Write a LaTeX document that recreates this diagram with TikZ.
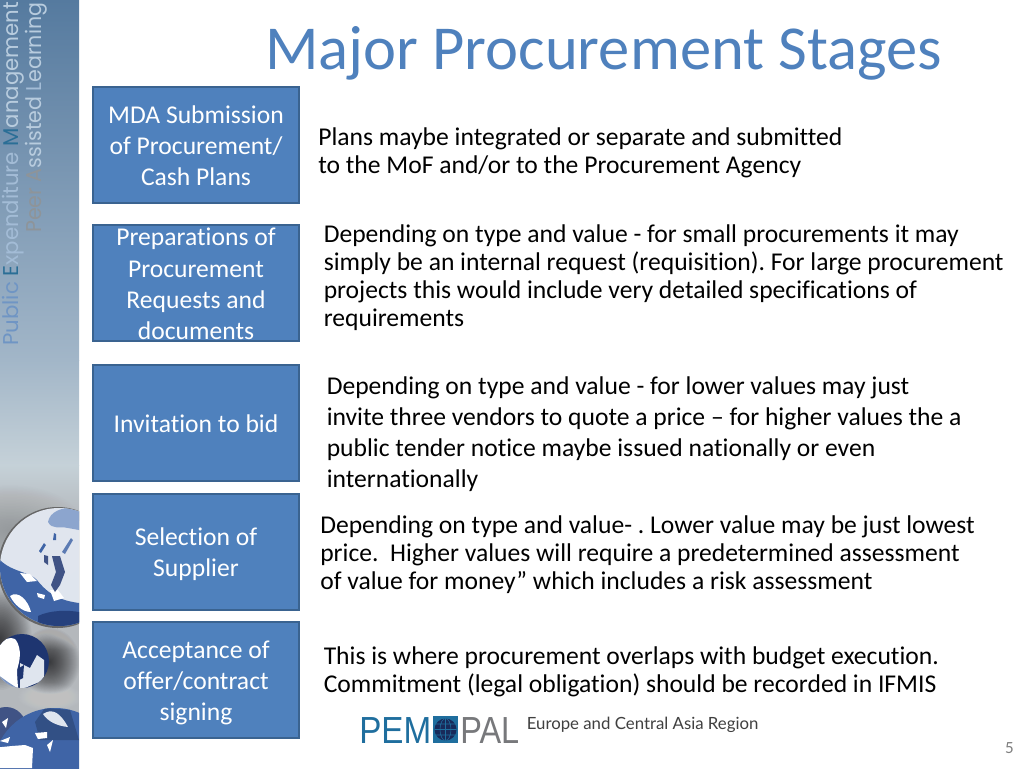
\documentclass[tikz,border=0pt]{standalone}
\usepackage{fontspec}
\setmainfont{Carlito}[RawFeature={-liga}]
\newfontfamily\sidefont{Poppins}
\newfontfamily\logofont{Liberation Sans}
\newfontfamily\regionfont{Lato}
\frenchspacing
\definecolor{boxfill}{HTML}{4F81BD}
\definecolor{boxline}{HTML}{3A6390}
\definecolor{titleblue}{HTML}{4F81BD}
\definecolor{sidebluedark}{HTML}{557A9F}
\definecolor{sidemid}{HTML}{A2B6C8}
\definecolor{sidelight}{HTML}{C5D1D8}
\definecolor{smokegrey}{HTML}{B4B8BC}
\definecolor{sidetexta}{HTML}{6F95C4}
\definecolor{sidetextb}{HTML}{A3BCD6}
\definecolor{sidetextc}{HTML}{B8CCDE}
\definecolor{sideaccent}{HTML}{2A6E96}
\definecolor{sidegrey}{HTML}{8E9499}
\definecolor{globeblue}{HTML}{3F64A6}
\definecolor{globedark}{HTML}{1E3570}
\definecolor{globelight}{HTML}{DFE5EE}
\definecolor{globepale}{HTML}{8CA5CE}
\definecolor{logoblue}{HTML}{1F6E9E}
\definecolor{logogrey}{HTML}{77787B}
\newcommand\softblob[6]{\foreach \k in {30,29,...,1}{\fill[#5,opacity=#6] (#1,#2) ellipse[x radius={#3*\k/30},y radius={#4*\k/30}];}}
\tikzset{
  x=0.75pt,y=-0.75pt,
  stagebox/.style={draw=boxline,line width=1.5pt,fill=boxfill,minimum width=154.5pt,minimum height=87pt,
    inner sep=0pt,text=white,align=center,font=\fontsize{19.2}{23.3}\selectfont},
  notetext/.style={anchor=north west,inner sep=0pt,align=left,text=black,font=\fontsize{19.2}{21}\selectfont},
  notewide/.style={notetext,font=\fontsize{19.2}{23.25}\selectfont},
  sidelabel/.style={rotate=90,anchor=base west,inner sep=0pt,font=\sidefont\fontsize{16}{20}\selectfont},
}
\begin{document}
\begin{tikzpicture}
\useasboundingbox (0,0) rectangle (1024,768);
\fill[white] (0,0) rectangle (1024,768);
% sidebar
\begin{scope}
\clip (0,0) rectangle (79,768);
\shade[top color=sidebluedark,bottom color=sidemid] (0,0) rectangle (79,360);
\shade[top color=sidemid,bottom color=sidelight] (0,360) rectangle (79,465);
\shade[top color=sidelight,bottom color=smokegrey] (0,465) rectangle (79,520);
\fill[smokegrey] (0,520) rectangle (79,768);
% soft grey smoke
\softblob{10}{530}{75}{45}{black!60}{.012}
\softblob{0}{640}{32}{50}{black}{.03}
\softblob{50}{662}{30}{34}{black}{.03}
\softblob{62}{636}{40}{14}{white}{.012}
\softblob{50}{697}{32}{14}{white}{.015}
% large globe
\fill[black!60] (57.5,567.5) ellipse[x radius=59.5,y radius=60.5];
\fill[globelight] (59,567) circle[radius=59];
\begin{scope}
\clip (59,567) circle[radius=59];
\softblob{45}{545}{42}{38}{white}{.03}
\fill[globeblue] (0,560) .. controls (12,572) and (30,572) .. (37,580) .. controls (45,590) and (55,600) .. (79,603) -- (79,640) -- (0,640) -- cycle;
\fill[globedark!75!globeblue] (38,616) .. controls (50,610) and (68,610) .. (79,612) -- (79,630) -- (38,630) -- cycle;
\fill[white] (10,596) .. controls (18,590) and (28,600) .. (31,612) .. controls (22,612) and (14,604) .. (10,596) -- cycle;
\fill[white] (20,573) -- (30,574) -- (37,581) -- (27,582) -- cycle;
\fill[white] (37,593) -- (45,595) -- (44,599) -- (38,597) -- cycle;
\fill[white] (50,590) -- (58,590) -- (64,598) -- (54,601) -- cycle;
\fill[globepale] (48,522) .. controls (50,512) and (60,507) .. (79,507) -- (79,530) -- (68,528) .. controls (60,526) and (52,530) .. (48,522) -- cycle;
\fill[globedark!85] (52,556) -- (60,556) -- (65,572) -- (60,585) -- (55,592) -- (51,585) -- (56,572) -- cycle;
\fill[globedark!85] (44,555) -- (48,556) -- (48,565) -- (44,562) -- cycle;
\fill[globeblue] (39,551) -- (44,543) -- (46,545) -- (41,553) -- cycle;
\fill[globeblue!85] (62,552) -- (71,538) -- (73,540) -- (65,554) -- cycle;
\fill[globeblue] (53,540) -- (54,533) -- (56,534) -- (56,540) -- cycle;
\end{scope}
% small globe
\fill[globedark] (22,661) circle[radius=27];
\begin{scope}
\clip (22,661) circle[radius=27];
\fill[white] (-6,650) .. controls (2,638) and (12,636) .. (16,640) .. controls (22,650) and (20,660) .. (17,670) .. controls (17,676) and (18,685) .. (18,690) -- (-6,690) -- cycle;
\fill[globelight] (20,663) -- (30,668) -- (37,655) -- (44,660) -- (44,680) -- (20,690) -- cycle;
\fill[globedark] (19,668) -- (24,665) -- (23,678) -- (19,680) -- cycle;
\fill[globeblue!70] (-6,672) -- (8,682) -- (20,690) -- (-6,692) -- cycle;
\end{scope}
% bottom globes
\fill[globedark!85] (6,727) circle[radius=20];
\fill[white] (2,722) -- (8,718) -- (6,728) -- cycle;
\fill[globeblue] (55,770) circle[radius=62];
\begin{scope}
\clip (55,770) circle[radius=62];
\fill[globeblue!80!black] (35,722) -- (45,708) -- (70,710) -- (79,740) -- (40,740) -- cycle;
\fill[globelight] (43,714) .. controls (52,708) and (60,712) .. (68,727) .. controls (58,726) and (48,722) .. (43,714) -- cycle;
\fill[white] (35,733) -- (47,732) -- (47,738) -- (38,739) -- cycle;
\fill[white] (47,745) -- (53,740) -- (50,752) -- cycle;
\fill[white] (-8,748) -- (12,746) -- (25,745) -- (33,748) -- (32,768) -- (-8,768) -- cycle;
\fill[white] (0,741) -- (10,737) -- (8,743) -- cycle;
\end{scope}
\end{scope}
% sidebar lettering
\node[sidelabel] (sidea) at (18,346) {\resizebox{258pt}{\height}{\textcolor{sidetexta}{Public}\ \textcolor{sideaccent}{E}\textcolor{sidetextb}{xpenditure}\ \textcolor{sideaccent}{M}\textcolor{sidetextc}{anagement}}};
\node[sidelabel] (sideb) at (41,233) {\resizebox{172.5pt}{\height}{\textcolor{sidegrey}{Peer}\ \textcolor{sidegrey}{A}\textcolor{sidetextc}{ssisted}\ \textcolor{sidetextb}{L}\textcolor{sidetextc}{earning}}};
% title
\node[anchor=base west,inner sep=0pt,text=titleblue,font=\fontsize{46.9}{50}\selectfont] (title) at (265,69) {Major Procurement Stages};
% stage boxes
\node[stagebox] (s1) at (196,145) {\rule{0pt}{14.5pt}MDA Submission\\of Procurement/\\Cash Plans};
\node[stagebox] (s2) at (196,283) {\rule{0pt}{14.5pt}Preparations of\\Procurement\\Requests and\\documents};
\node[stagebox] (s3) at (196,423) {\rule{0pt}{14.5pt}Invitation to bid};
\node[stagebox] (s4) at (196,552) {\rule{0pt}{16pt}Selection of\\Supplier};
\node[stagebox] (s5) at (196,680) {\rule{0pt}{17.5pt}Acceptance of\\offer/contract\\signing};
% notes
\node[notetext] (n1) at (318,127) {Plans maybe integrated or separate and submitted\\to the MoF and/or to the Procurement Agency};
\node[notetext] (n2) at (323.5,224) {Depending on type and value - for small procurements it may\\simply be an internal request (requisition). For large procurement\\projects this would include very detailed specifications of\\requirements};
\node[notewide] (n3) at (326.5,376.5) {Depending on type and value - for lower values may just\\invite three vendors to quote a price – for higher values the a\\public tender notice maybe issued nationally or even\\internationally};
\node[notetext] (n4) at (320,515) {Depending on type and value- . Lower value may be just lowest\\price.\ \ Higher values will require a predetermined assessment\\of value for money” which includes a risk assessment};
\node[notetext] (n5) at (323.5,646.5) {This is where procurement overlaps with budget execution.\\Commitment (legal obligation) should be recorded in IFMIS};
% logo
\node[anchor=base west,inner sep=0pt,text=logoblue,font=\logofont\fontsize{28.3}{30}\selectfont] (pem) at (359,743) {\scalebox{.88}[1]{PEM}};
\fill[logoblue] (433,716) rectangle (458,743);
\fill[globedark!80!black] (445.5,729.5) circle[radius=11];
\draw[logoblue,line width=.4pt] (434.5,729.5) -- (456.5,729.5) (445.5,718.5) -- (445.5,740.5) (445.5,729.5) ellipse[x radius=5.5,y radius=11] (436,724) -- (455,724) (436,735) -- (455,735);
\node[anchor=base west,inner sep=0pt,text=logogrey,font=\logofont\fontsize{28.3}{30}\selectfont] (pal) at (460,743) {\scalebox{.86}[1]{PAL}};
\node[anchor=base west,inner sep=0pt,text=black!75,font=\regionfont\fontsize{12.6}{15}\selectfont] (region) at (526.5,729.5) {Europe and Central Asia Region};
% page number
\node[anchor=base east,inner sep=0pt,text=black!50,font=\fontsize{12.8}{15}\selectfont] (page) at (1014,753) {5};
\end{tikzpicture}
\end{document}
